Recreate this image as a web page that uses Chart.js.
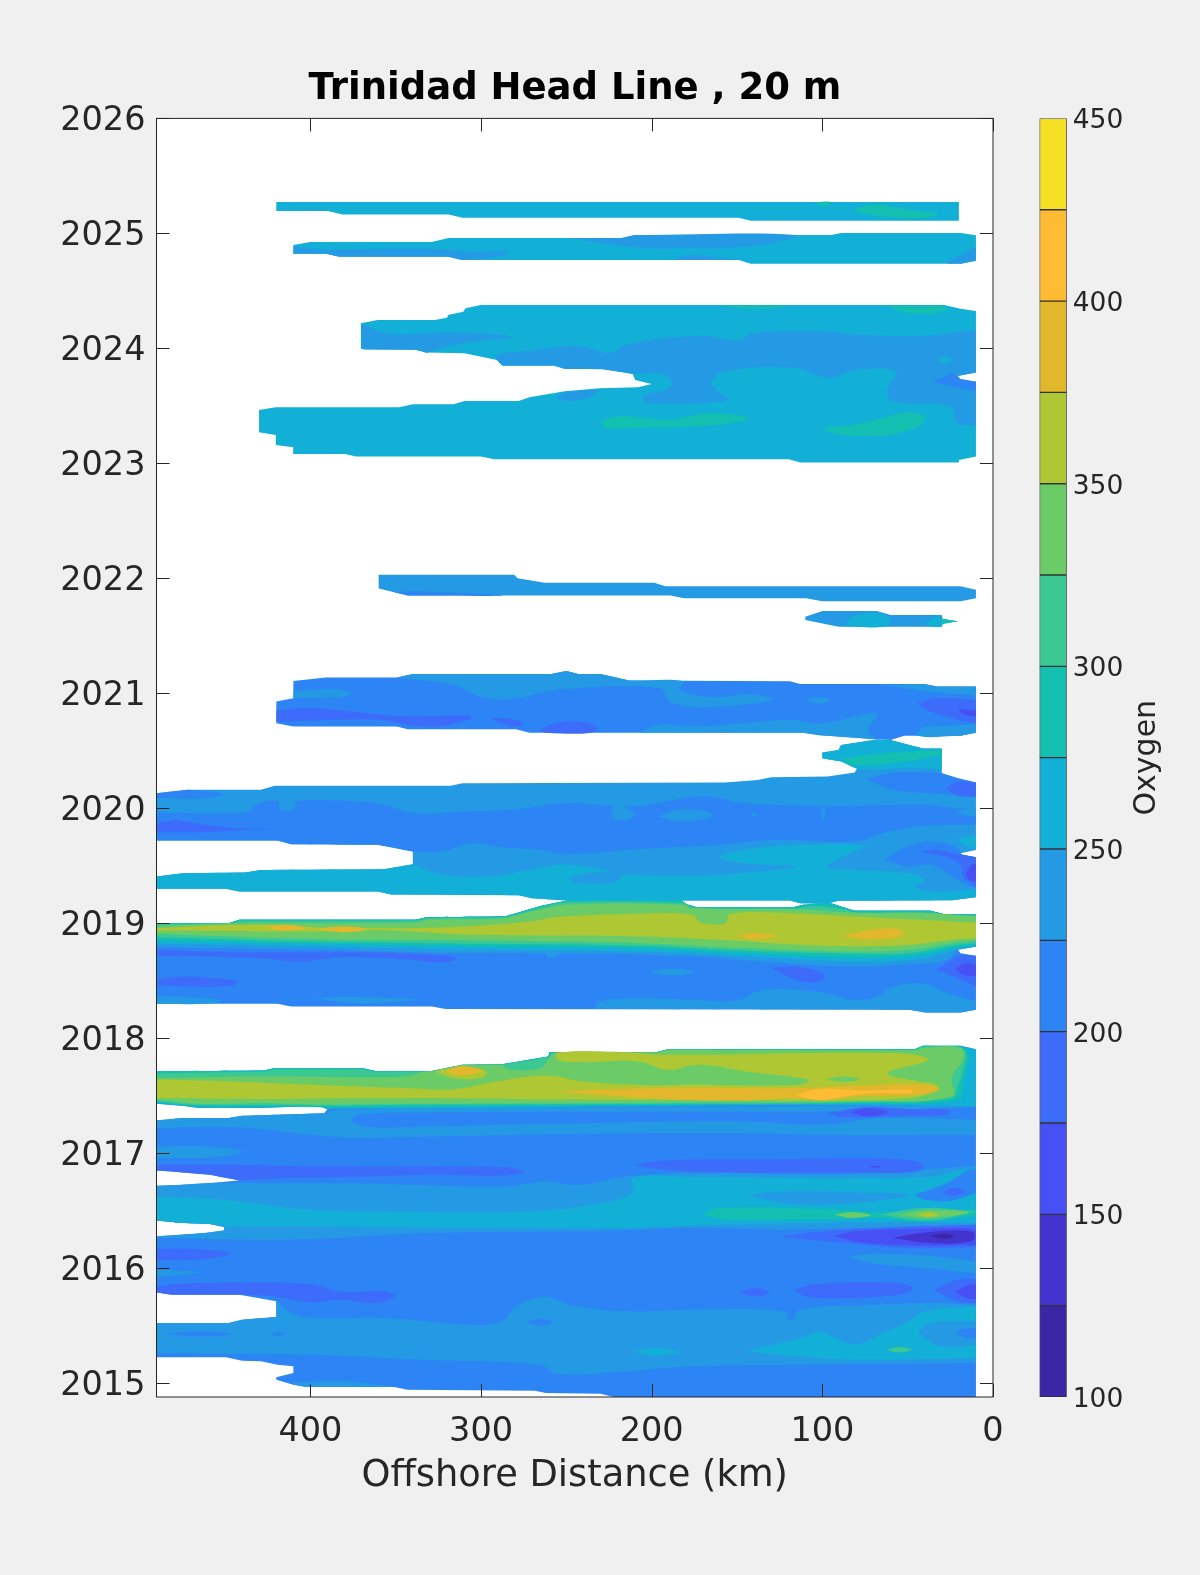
<!DOCTYPE html>
<html>
<head>
<meta charset="utf-8">
<title>Trinidad Head Line</title>
<script src="https://cdn.jsdelivr.net/npm/chart.js@4"></script>
<style>
  html, body { margin: 0; padding: 0; background: #f0f0f0; width: 1200px; height: 1575px; overflow: hidden; }
  canvas { position: absolute; top: 0; }
  #plot { left: 0; }
  #bar { left: 1020px; }
</style>
</head>
<body>
<canvas id="plot" width="1150" height="1575"></canvas>
<canvas id="bar" width="180" height="1575"></canvas>
<script>
// oxygen contour levels, one colour per band
const levels = [100, 125, 150, 175, 200, 225, 250, 275, 300, 325, 350, 375, 400, 425, 450];
const bandColors = ["#3b26a6", "#4334d0", "#4650f5", "#3e6cfa", "#2c84f5", "#259ae4", "#12afd6", "#12bfb0",
  "#3cc892", "#6bcb66", "#aec733", "#e2b72c", "#fdbc33", "#f6e023"];
const yearTicks = [2015, 2016, 2017, 2018, 2019, 2020, 2021, 2022, 2023, 2024, 2025, 2026];
const distTicks = [0, 100, 200, 300, 400];
const barTicks = [100, 150, 200, 250, 300, 350, 400, 450];

// contour outlines, [offshore km, year]

// 2025 strips
const s25a = [[420,2025.273],[20,2025.273],[20,2025.11],[142,2025.11],[149,2025.136],[311,2025.136],[319,2025.163],[381,2025.163],[390,2025.194],[420,2025.194]];
const s25a1 = [[82.6,2025.197],[70,2025.25],[49,2025.203],[32,2025.168],[43,2025.131],[68,2025.151]];
const s25a2 = [[104,2025.273],[95,2025.273],[99,2025.23]];
const s25b = [[410,2024.899],[400,2024.925],[329,2024.925],[319,2024.96],[217.6,2024.96],[209.7,2024.986],[95,2024.986],[89,2025.003],[19,2025.003],[10,2024.983],[10,2024.762],[19,2024.736],[142,2024.736],[149,2024.768],[311,2024.768],[319,2024.797],[383,2024.797],[391,2024.823],[410,2024.823],[410,2024.885]];
const s25b1 = [[410,2024.885],[389,2024.855],[383,2024.861],[329,2024.867],[303,2024.841],[283,2024.841],[291,2024.797],[311,2024.768],[319,2024.797],[383,2024.797],[391,2024.823],[410,2024.823]];
const s25b2 = [[249,2024.96],[217.6,2024.96],[209.7,2024.986],[116,2024.986],[135,2024.899],[192,2024.87],[221,2024.899]];
const s25b3 = [[187,2024.768],[179.5,2024.812],[157,2024.783],[149,2024.768]];
const s25b4 = [[10,2024.884],[19,2024.812],[27,2024.745],[19,2024.736],[10,2024.762]];

// 2023-2024 block
const s24 = [[370.4,2024.218],[360.6,2024.247],[327.2,2024.247],[319.9,2024.267],[319.3,2024.29],[310.4,2024.319],[309.1,2024.348],[300.2,2024.377],[28.6,2024.377],[19,2024.345],[10,2024.325],[10,2023.789],[20.6,2023.76],[19,2023.731],[10,2023.705],[10,2023.058],[20,2023.029],[20,2023.006],[112.8,2023.006],[119.7,2023.035],[292.3,2023.035],[300.2,2023.058],[373.3,2023.058],[379.6,2023.081],[410.1,2023.081],[410.1,2023.139],[420.3,2023.16],[420.3,2023.247],[430.1,2023.27],[430.1,2023.464],[420.3,2023.487],[347.9,2023.487],[339.9,2023.513],[316.1,2023.513],[309.7,2023.542],[278,2023.542],[271.6,2023.574],[251,2023.626],[230.3,2023.652],[208,2023.661],[200.1,2023.69],[209.7,2023.725],[211.2,2023.777],[228.7,2023.818],[251,2023.823],[257.3,2023.849],[287.5,2023.849],[290.7,2023.899],[309.7,2023.957],[332,2023.963],[338.3,2023.986],[368.5,2023.991],[370.4,2023.997]];
const s24left = [[370,2024.21],[354,2024.13],[316,2024.14],[281,2024.10],[303,2024.06],[322,2024.01],[332,2023.96],[338,2023.99],[368.5,2023.99],[370,2024.0]];
const s24main = [[291,2023.90],[291,2023.94],[272,2023.98],[243,2024.02],[224,2023.96],[214,2024.04],[170,2024.11],[149,2024.07],[141,2024.13],[100,2024.15],[81,2024.12],[43,2024.11],[10,2024.16],[10,2023.79],[21,2023.76],[19,2023.73],[10,2023.71],[10,2023.33],[21,2023.35],[25,2023.49],[59,2023.54],[62,2023.64],[57,2023.80],[81,2023.81],[97,2023.74],[116,2023.83],[157,2023.80],[165,2023.70],[160,2023.61],[154,2023.55],[202,2023.52],[205,2023.58],[189,2023.67],[192,2023.77],[211,2023.78],[229,2023.82],[251,2023.82],[257,2023.85],[287.5,2023.85]];
const s24notch = [[35,2023.71],[24,2023.78],[21,2023.76],[19,2023.73],[10,2023.71],[10,2023.63],[24,2023.67]];
const s24low = [[257,2023.57],[249,2023.62],[230,2023.64],[237,2023.57],[249,2023.54]];
const s24spot = [[33,2023.90],[29,2023.93],[24,2023.90],[29,2023.87]];
const s24g1 = [[230,2023.36],[221,2023.41],[189,2023.38],[167,2023.435],[143,2023.39],[164,2023.33],[208,2023.31],[227,2023.305]];
const s24g2 = [[100,2023.31],[84,2023.33],[68,2023.38],[51,2023.44],[40,2023.41],[43,2023.33],[56,2023.26],[68,2023.24],[90.5,2023.25]];
const s24g3 = [[160,2024.37],[122,2024.37],[141,2024.34]];
const s24g4 = [[62,2024.37],[28.6,2024.37],[27,2024.33],[43,2024.30],[54,2024.32]];

// 2022 strip and the small patch under it
const s22 = [[360,2022.03],[280.5,2022.03],[278.6,2022.0],[262.7,2021.96],[198.5,2021.96],[192,2021.93],[19,2021.93],[10,2021.90],[10,2021.826],[19,2021.80],[100,2021.80],[109.6,2021.826],[181,2021.826],[189,2021.85],[343,2021.85],[360,2021.91]];
const s22low = [[351,2021.88],[335,2021.886],[287.5,2021.85],[343,2021.85]];
const s21p = [[110,2021.666],[100,2021.716],[68,2021.716],[60,2021.68],[30,2021.68],[29.5,2021.646],[20.6,2021.626],[29.5,2021.608],[30,2021.579],[90.5,2021.579],[110,2021.637]];
const s21p1 = [[87,2021.58],[82.6,2021.667],[68,2021.70],[60,2021.637],[63,2021.58]];
const s21p2 = [[40,2021.608],[33,2021.666],[29.5,2021.646],[20.6,2021.626],[29.5,2021.608],[30,2021.579],[36.5,2021.579]];
const s21p3 = [[30,2021.646],[20.6,2021.626],[30,2021.60]];

// 2021 block
const s21 = [[410,2020.956],[410,2021.02],[410,2021.107],[391,2021.136],[349.5,2021.136],[340,2021.168],[259,2021.168],[250,2021.194],[243,2021.168],[230,2021.168],[213,2021.11],[119,2021.104],[113,2021.08],[40,2021.08],[33,2021.058],[10,2021.058],[10,2020.657],[19,2020.63],[52,2020.629],[60,2020.594],[68,2020.60],[101.6,2020.635],[111,2020.657],[271.6,2020.657],[279.5,2020.686],[343,2020.686],[349.5,2020.71],[410,2020.71],[420,2020.739],[420,2020.753],[420,2020.85],[420,2020.927]];
const s21a = [[349.5,2021.136],[340,2021.168],[259,2021.168],[250,2021.194],[243,2021.168],[230,2021.168],[213,2021.11],[181,2021.104],[184,2021.03],[163.6,2020.965],[141,2020.994],[128.6,2020.94],[167,2020.88],[189,2020.92],[195,2021.043],[252.5,2021.034],[284,2020.947],[300,2020.97],[316,2021.07]];
const s21b = [[410,2021.02],[386,2021.034],[376,2021.0],[383,2020.97],[410,2020.956]];
const s21c = [[110,2020.936],[103,2020.965],[95,2020.94],[102,2020.91]];
const s21d = [[63.5,2021.07],[40,2021.08],[33,2021.058],[10,2021.058],[10,2020.985],[36.5,2021.014]];
const s21e = [[208,2020.657],[195,2020.724],[173,2020.71],[147.7,2020.739],[119,2020.768],[100,2020.739],[68,2020.82],[73,2020.68],[68,2020.60],[101.6,2020.635],[111,2020.657]];
const s21f = [[41,2020.71],[17.5,2020.724],[10,2020.739],[10,2020.657],[19,2020.63],[44.5,2020.629]];
const s21v1 = [[420,2020.85],[399,2020.87],[367,2020.826],[345,2020.80],[305,2020.80],[322.5,2020.715],[341.5,2020.724],[360.6,2020.77],[420,2020.753]];
const s21v2 = [[295.4,2020.78],[284,2020.78],[275,2020.739],[278,2020.71],[287.5,2020.739]];
const s21v3 = [[266,2020.68],[257,2020.739],[243,2020.753],[232,2020.71],[235,2020.657],[262,2020.657]];
const s21v4 = [[44.5,2020.912],[33,2020.956],[14,2020.947],[10,2020.94],[10,2020.739],[20.6,2020.768],[36.5,2020.84]];
const s21v5 = [[20.6,2020.87],[10,2020.85],[10,2020.797],[17.5,2020.82]];

// 2019.2 - 2020.6 block
const s20 = [[68,2020.60],[60,2020.594],[49,2020.55],[41,2020.52],[30,2020.52],[30,2020.51],[30,2020.463],[30,2020.339],[30,2020.304],[20.6,2020.26],[10,2020.223],[10,2019.637],[19,2019.608],[18,2019.594],[10,2019.574],[10,2019.226],[24,2019.20],[90.5,2019.194],[98,2019.168],[113,2019.174],[119,2019.197],[249,2019.197],[270,2019.217],[278,2019.243],[352.6,2019.249],[360.6,2019.275],[441.6,2019.275],[449.5,2019.30],[490.2,2019.30],[490.2,2019.405],[475,2019.434],[438.4,2019.44],[429,2019.463],[357,2019.469],[340,2019.513],[340,2019.623],[360.6,2019.681],[411.4,2019.687],[419.3,2019.718],[490.2,2019.718],[490.2,2020.13],[471.8,2020.16],[429,2020.16],[421,2020.194],[317.7,2020.194],[311,2020.217],[157,2020.223],[138,2020.246],[130,2020.27],[97,2020.275],[81,2020.31],[79.4,2020.356],[89,2020.405],[100,2020.434],[100,2020.484],[90.5,2020.507],[89,2020.55]];
const s20top = [[89,2020.55],[68,2020.594],[60,2020.594],[49,2020.55],[41,2020.52],[30,2020.52],[30,2020.339],[52,2020.347],[78,2020.339],[89,2020.405],[100,2020.434],[100,2020.484],[90.5,2020.507]];
const s20teal = [[89,2020.426],[74.6,2020.463],[30,2020.51],[30,2020.463],[52.4,2020.405],[81,2020.376]];
const s20r1 = [[75,2020.26],[55.6,2020.31],[30,2020.304],[20.6,2020.26],[10,2020.223],[10,2020.10],[36.5,2020.13],[59,2020.16]];
const s20r2 = [[27.6,2020.17],[20.6,2020.23],[10,2020.223],[10,2020.10],[20.6,2020.107]];
const s20l1 = [[490,2020.13],[472,2020.16],[451,2020.124],[462,2020.087],[490,2020.087]];
const s20main = [[490,2019.962],[456,2019.956],[437,2019.971],[430.5,2020.043],[419,2020.058],[418,2019.991],[410,2019.985],[408,2020.058],[383,2020.066],[357,2020.029],[338,2019.956],[310,2019.971],[278,2019.991],[252.5,2020.043],[224,2020.02],[208,2020.02],[170,2020.101],[144.5,2020.043],[97,2020.02],[40,2020.029],[20.6,2020.0],[10,2020.0],[10,2019.855],[43,2019.84],[65,2019.782],[81,2019.71],[128.6,2019.724],[160.4,2019.681],[208,2019.643],[249.4,2019.603],[265,2019.637],[287.5,2019.66],[306.6,2019.695],[322.4,2019.623],[340,2019.623],[360.6,2019.681],[411.4,2019.687],[419.3,2019.718],[490.2,2019.718]];
const s20p1 = [[224,2020.0],[217.6,2020.02],[209.7,2019.94],[221,2019.90]];
const s20p2 = [[197,2019.927],[181,2019.99],[163.6,2019.94],[181,2019.884]];
const s20p3 = [[142,2019.97],[138,2019.94],[140.7,2019.927]];
const s20p4 = [[100.7,2020.0],[98.4,2020.0],[99,2019.90],[100,2019.90]];
const s20p5 = [[22,2019.985],[10,2020.0],[10,2019.927],[17.5,2019.94]];
const s20v = [[490,2019.87],[478,2019.892],[462,2019.855],[443,2019.826],[422.5,2019.82],[443,2019.805],[462,2019.791],[490,2019.788]];
const s19c = [[490.2,2019.405],[475,2019.434],[438.4,2019.44],[429,2019.463],[357,2019.469],[340,2019.513],[325.6,2019.429],[297,2019.405],[271.6,2019.463],[252.5,2019.507],[230.3,2019.469],[221,2019.434],[176,2019.411],[128.6,2019.463],[114.3,2019.492],[144.5,2019.521],[160.4,2019.574],[144.5,2019.637],[112.8,2019.681],[74.6,2019.672],[84,2019.608],[97,2019.492],[81,2019.463],[49,2019.434],[39.7,2019.376],[46,2019.318],[36.5,2019.275],[10,2019.29],[10,2019.226],[24,2019.20],[90.5,2019.194],[98,2019.168],[113,2019.174],[119,2019.197],[249,2019.197],[270,2019.217],[278,2019.243],[352.6,2019.249],[360.6,2019.275],[441.6,2019.275],[449.5,2019.30],[490.2,2019.30]];
const s19p = [[249,2019.39],[233.5,2019.44],[217.6,2019.42],[221,2019.362],[243,2019.348]];
const s19r1 = [[63.5,2019.55],[52.4,2019.652],[36.5,2019.71],[20.6,2019.652],[19,2019.608],[18,2019.594],[10,2019.574],[10,2019.304],[19,2019.362],[28.6,2019.449],[36.5,2019.507],[49,2019.492]];
const s19r2 = [[43,2019.623],[33,2019.637],[20.6,2019.594],[18,2019.594],[10,2019.574],[10,2019.318],[17.5,2019.405],[19,2019.507],[27,2019.574]];
const s19r3 = [[15.8,2019.434],[12.6,2019.507],[10,2019.515],[10,2019.362],[14,2019.376]];
const s19r4 = [[20.6,2019.739],[10,2019.768],[10,2019.652],[17.5,2019.681]];

// 2018.2 - 2019.2 block with the warm band
const bandTop = [[490.2,2019.0],[448,2019.0],[441.6,2019.029],[338.3,2019.029],[332,2019.052],[286,2019.058],[265,2019.15],[249.4,2019.197],[182.6,2019.197],[179.5,2019.165],[173,2019.136],[117.5,2019.136],[111,2019.159],[98.5,2019.168],[95,2019.174],[85.8,2019.13],[81,2019.107],[36.5,2019.107],[28.6,2019.078],[10,2019.078]];
const s18 = [...bandTop,[10,2018.797],[20.6,2018.768],[19,2018.739],[10,2018.716],[10,2018.246],[19,2018.223],[39.7,2018.223],[49,2018.246],[320.9,2018.252],[328.8,2018.275],[411.4,2018.275],[419.3,2018.298],[490.2,2018.298]];
const s18b225 = [...bandTop,[10,2018.797],[20.6,2018.768],[27,2018.681],[43,2018.646],[81,2018.623],[128.6,2018.658],[176,2018.71],[252.5,2018.733],[259,2018.695],[263.7,2018.733],[316,2018.739],[398.7,2018.768],[490.2,2018.791]];
const s18b250 = [...bandTop,[10,2018.797],[20.6,2018.774],[43,2018.687],[81,2018.666],[144.5,2018.71],[208,2018.753],[303.4,2018.768],[398.7,2018.797],[490.2,2018.82]];
const s18b275 = [...bandTop,[10,2018.811],[20.6,2018.788],[49,2018.716],[81,2018.704],[144.5,2018.739],[208,2018.782],[303.4,2018.797],[398.7,2018.82],[490.2,2018.849]];
const s18b300 = [[490.2,2018.994],[448,2018.994],[441.6,2019.02],[338.3,2019.02],[332,2019.043],[286,2019.049],[265,2019.139],[249.4,2019.182],[181,2019.174],[176,2019.136],[116,2019.127],[108,2019.145],[97,2019.139],[85.8,2019.116],[81,2019.092],[36.5,2019.092],[28.6,2019.069],[10,2019.069],[10,2018.826],[20.6,2018.811],[49,2018.739],[81,2018.733],[144.5,2018.759],[208,2018.803],[303.4,2018.82],[398.7,2018.84],[490.2,2018.878]];
const s18b325 = [[490.2,2018.971],[459,2018.994],[441.6,2019.0],[338.3,2019.005],[332,2019.029],[287.5,2019.043],[270,2019.101],[249.4,2019.159],[181,2019.159],[176,2019.13],[116,2019.121],[81,2019.092],[36.5,2019.087],[10,2019.058],[10,2018.849],[24,2018.826],[49,2018.768],[81,2018.753],[144.5,2018.782],[208,2018.826],[303.4,2018.849],[398.7,2018.861],[490.2,2018.907]];
const s18b350 = [[490.2,2018.956],[459,2018.977],[427,2018.985],[403.5,2018.971],[398.7,2018.965],[354.2,2018.956],[309.7,2018.971],[271.6,2019.014],[255.7,2019.052],[208,2019.081],[176,2019.072],[171.5,2019.005],[157,2019.0],[154,2019.081],[119,2019.087],[81,2019.058],[10,2019.005],[10,2018.869],[24,2018.855],[49,2018.811],[81,2018.797],[112.8,2018.811],[160.4,2018.855],[208,2018.884],[303.4,2018.898],[354.2,2018.936],[398.7,2018.927],[490.2,2018.936]];
const s18g1 = [[427,2018.965],[414.6,2018.985],[403.5,2018.956],[414.6,2018.936]];
const s18g2 = [[397,2018.95],[379.6,2018.971],[367,2018.947],[379.6,2018.921]];
const s18g3 = [[151,2018.89],[139.7,2018.913],[127,2018.89],[139.7,2018.861]];
const s18g4 = [[87.3,2018.898],[68.3,2018.947],[54,2018.942],[52.4,2018.898],[65,2018.861],[81,2018.869]];
const s18v1 = [[490,2018.768],[462,2018.753],[414.6,2018.745],[367,2018.745],[329,2018.725],[314.5,2018.695],[322.4,2018.658],[341.5,2018.681],[382.8,2018.704],[405,2018.666],[430.5,2018.695],[490,2018.716]];
const s18v2 = [[490,2018.507],[475,2018.536],[456,2018.521],[442.5,2018.492],[446,2018.455],[475,2018.449],[490,2018.464]];
const s18v3 = [[130,2018.608],[116,2018.623],[100,2018.565],[98.5,2018.521],[106,2018.484],[117.5,2018.521]];
const s18v4 = [[33,2018.594],[24,2018.681],[19,2018.716],[10,2018.716],[10,2018.449],[20.6,2018.521]];
const s18v5 = [[22,2018.608],[15.8,2018.652],[10,2018.637],[10,2018.536],[17.5,2018.55]];
const s18p1 = [[201.7,2018.574],[189,2018.603],[174.7,2018.574],[187.4,2018.542]];
const s18p2 = [[400,2018.353],[370,2018.356],[338,2018.333],[373,2018.304]];
const s18p3 = [[490,2018.362],[472,2018.356],[451,2018.327],[462,2018.298],[490,2018.298]];
const s18p4 = [[233.5,2018.252],[230.3,2018.318],[208,2018.347],[176,2018.333],[149.3,2018.327],[135,2018.42],[100,2018.397],[81,2018.333],[68,2018.362],[58.7,2018.449],[39.7,2018.472],[27,2018.391],[10,2018.318],[10,2018.246],[19,2018.223],[39.7,2018.223],[49,2018.246]];

// 2014.9 - 2017.9 block
const s17 = [[490,2017.71],[427,2017.718],[421,2017.739],[370,2017.739],[362,2017.713],[329,2017.713],[311,2017.768],[287.5,2017.773],[260.5,2017.84],[260,2017.878],[197,2017.878],[190.6,2017.904],[46,2017.904],[41,2017.933],[19,2017.933],[10,2017.904],[10,2014.878],[222.4,2014.878],[230,2014.907],[262,2014.913],[268.4,2014.933],[343,2014.942],[351,2014.965],[402,2014.965],[410,2014.985],[420,2015.029],[420,2015.049],[410,2015.087],[410,2015.145],[419.3,2015.159],[429,2015.188],[440,2015.194],[449.5,2015.223],[490.2,2015.223],[490.2,2015.522],[448,2015.522],[440,2015.551],[420,2015.574],[420,2015.71],[441.6,2015.768],[481,2015.768],[490,2015.788],[490,2016.275],[462,2016.304],[450.5,2016.327],[450.5,2016.356],[459,2016.382],[475,2016.391],[490,2016.414],[490,2016.715],[475,2016.724],[459,2016.739],[441.6,2016.762],[459,2016.811],[481,2016.84],[490,2016.849],[490,2017.284],[475,2017.304],[448,2017.304],[440,2017.324],[392,2017.347],[390,2017.382],[395.5,2017.411],[430.5,2017.391],[465,2017.391],[475,2017.411],[490,2017.428]];
const s17streak = [[490,2017.284],[475,2017.304],[448,2017.304],[440,2017.324],[392,2017.347],[384.4,2017.376],[10,2017.42],[10,2017.159],[100,2017.159],[144.5,2017.173],[240,2017.168],[341.5,2017.139],[373,2017.13],[399,2017.159],[446,2017.226],[490,2017.217]];
const s17caps = [[376.5,2017.275],[371.7,2017.333],[335,2017.353],[176,2017.362],[97,2017.362],[10,2017.4],[10,2017.29],[65,2017.304],[100,2017.246],[144.5,2017.275],[240,2017.26],[335,2017.231],[367,2017.226]];
const s17w250 = [[490,2017.71],[427,2017.718],[421,2017.739],[370,2017.739],[362,2017.713],[329,2017.713],[311,2017.768],[287.5,2017.773],[260.5,2017.84],[260,2017.878],[197,2017.878],[190.6,2017.904],[46,2017.904],[41,2017.933],[19,2017.933],[10,2017.904],[10,2017.405],[81,2017.417],[176,2017.411],[335,2017.388],[384.4,2017.388],[390,2017.382],[395.5,2017.411],[430.5,2017.391],[465,2017.391],[475,2017.411],[490,2017.428]];
const s17w275 = [[490,2017.71],[427,2017.718],[421,2017.739],[370,2017.739],[362,2017.713],[329,2017.713],[311,2017.768],[287.5,2017.773],[260.5,2017.84],[260,2017.878],[197,2017.878],[190.6,2017.904],[46,2017.904],[41,2017.933],[19,2017.927],[14,2017.869],[15,2017.753],[17.5,2017.608],[20.6,2017.463],[81,2017.428],[176,2017.42],[335,2017.4],[390,2017.397],[430.5,2017.405],[465,2017.405],[490,2017.44]];
const s17w300 = [[490,2017.695],[427,2017.707],[421,2017.73],[370,2017.73],[362,2017.707],[329,2017.707],[311,2017.762],[287.5,2017.768],[260.5,2017.834],[259,2017.869],[197,2017.869],[190.6,2017.898],[46,2017.898],[41,2017.927],[19,2017.927],[16,2017.869],[17,2017.753],[20.6,2017.579],[24,2017.478],[81,2017.44],[176,2017.428],[335,2017.42],[390,2017.411],[430.5,2017.417],[465,2017.417],[490,2017.449]];
const s17w325 = [[490,2017.652],[430.5,2017.666],[367,2017.66],[344.7,2017.666],[335,2017.701],[329,2017.713],[311,2017.768],[287.5,2017.768],[284,2017.73],[265,2017.739],[260,2017.826],[255.7,2017.875],[197,2017.875],[190.6,2017.898],[46,2017.892],[39.7,2017.921],[19,2017.913],[17.5,2017.811],[24,2017.666],[24,2017.492],[81,2017.449],[176,2017.44],[335,2017.428],[390,2017.423],[430.5,2017.434],[465,2017.428],[490,2017.463]];
const s17w350 = [[490,2017.643],[446,2017.623],[399,2017.594],[344.7,2017.565],[316,2017.556],[290.7,2017.623],[262,2017.675],[240,2017.623],[208,2017.594],[176,2017.594],[114,2017.594],[108,2017.637],[144.5,2017.71],[173,2017.768],[190.6,2017.724],[208,2017.797],[240,2017.791],[255,2017.811],[255,2017.875],[214.4,2017.875],[192,2017.855],[55.6,2017.869],[38,2017.811],[62,2017.695],[43,2017.623],[33,2017.594],[32,2017.55],[49,2017.478],[97,2017.457],[208,2017.463],[271.6,2017.469],[367,2017.478],[430.5,2017.469],[490,2017.478]];
const s17isle = [[98.5,2017.643],[87.3,2017.666],[78,2017.643],[87.3,2017.62]];
const s17gold = [[254,2017.536],[192,2017.565],[113,2017.565],[81,2017.585],[39.7,2017.594],[32,2017.55],[43,2017.507],[81,2017.492],[100,2017.457],[116,2017.478],[144.5,2017.457],[192,2017.469],[230,2017.507]];
const s17orange = [[116,2017.507],[101.6,2017.556],[78,2017.544],[47.6,2017.55],[47.6,2017.521],[71.5,2017.521],[87.3,2017.492],[100,2017.463],[109.6,2017.478]];
const s17olive = [[327,2017.71],[311,2017.762],[297,2017.71],[300,2017.652],[316,2017.652]];
const s17spot = [[321,2017.718],[310,2017.753],[299.6,2017.718],[306.6,2017.681],[316,2017.681]];
const s17d1 = [[97,2017.347],[84,2017.382],[71.5,2017.4],[49,2017.382],[25.4,2017.376],[27,2017.333],[49,2017.324],[71.5,2017.313],[87.3,2017.313]];
const s17d2 = [[84,2017.353],[73,2017.391],[62,2017.353],[73,2017.318]];
const s17l = [[490,2017.058],[462,2017.058],[440,2017.014],[456,2016.965],[490,2016.956]];

const s16a225 = [[490,2016.715],[475,2016.724],[459,2016.739],[367,2016.733],[287.5,2016.71],[262,2016.753],[243,2016.724],[214.4,2016.797],[176,2016.826],[81,2016.82],[10,2016.89],[10,2016.362],[81,2016.347],[125.5,2016.333],[176,2016.347],[221,2016.327],[329,2016.304],[414.6,2016.246],[490,2016.26],[490,2016.275],[462,2016.304],[450.5,2016.327],[450.5,2016.356],[459,2016.382],[475,2016.391],[490,2016.414]];
const s16a250 = [[490,2016.623],[452.7,2016.594],[399,2016.507],[360.6,2016.492],[271.6,2016.492],[230,2016.565],[211,2016.652],[211,2016.782],[176,2016.79],[81,2016.782],[36.5,2016.797],[16,2016.86],[10,2016.855],[10,2016.391],[81,2016.397],[176,2016.368],[221,2016.347],[303,2016.347],[383,2016.362],[450.5,2016.362],[459,2016.382],[475,2016.391],[490,2016.414]];
const s16v1 = [[490,2016.898],[446.3,2016.898],[398.7,2016.884],[344.7,2016.884],[287.5,2016.878],[274.8,2016.84],[287.5,2016.805],[329,2016.811],[367,2016.797],[414.6,2016.782],[441.6,2016.762],[459,2016.811],[481.3,2016.84],[490,2016.849]];
const s16v2 = [[211,2016.898],[192,2016.936],[128.6,2016.947],[55.6,2016.947],[41,2016.898],[44.5,2016.84],[81,2016.831],[144.5,2016.831],[192,2016.855]];
const s16v3 = [[73,2016.881],[69,2016.889],[65,2016.878],[69,2016.872]];
const s16p1 = [[144.5,2016.637],[119,2016.667],[81,2016.658],[49,2016.637],[81,2016.565],[119,2016.559]];
const s16r1 = [[46,2016.637],[27,2016.739],[14,2016.855],[10,2016.855],[10,2016.652],[24,2016.588],[39.7,2016.594]];
const s16r2 = [[30,2016.652],[24,2016.695],[16,2016.666],[24,2016.631]];
const s16t = [[170,2016.463],[160.4,2016.521],[97,2016.512],[65,2016.483],[10,2016.507],[10,2016.455],[43,2016.405],[65,2016.434],[97,2016.425],[157,2016.425]];
const s16g1 = [[93,2016.464],[82.6,2016.484],[71.5,2016.458],[82.6,2016.435]];
const s16g2 = [[66.7,2016.464],[39.7,2016.522],[10,2016.493],[36.5,2016.414]];
const s16g3 = [[55.6,2016.464],[39.7,2016.501],[14,2016.484],[36.5,2016.435]];
const s16g4 = [[44.5,2016.464],[38,2016.484],[32,2016.461],[38,2016.443]];
const s16k1 = [[125.5,2016.275],[93.7,2016.327],[49,2016.362],[10,2016.377],[10,2016.182],[49,2016.174],[87.3,2016.217]];
const s16k2 = [[93,2016.275],[81,2016.319],[49,2016.339],[17.5,2016.348],[10,2016.333],[10,2016.203],[43,2016.194],[74.6,2016.217]];
const s16k3 = [[58.7,2016.261],[43,2016.304],[20.6,2016.327],[11,2016.304],[12.7,2016.232],[36.5,2016.217]];
const s16k4 = [[36,2016.275],[29.5,2016.298],[23,2016.275],[29.5,2016.255]];
const s16l1 = [[490,2016.165],[468.6,2016.165],[446.3,2016.13],[456,2016.087],[478,2016.067],[490,2016.067]];
const s16l2 = [[490,2015.985],[465.4,2015.962],[490,2015.922]];
const s16r3 = [[85.8,2016.101],[68,2016.124],[33,2016.101],[10,2016.058],[10,2015.956],[39.7,2016.0],[68,2016.037]];

const s15v1 = [[490,2015.84],[475,2015.864],[402,2015.864],[382.8,2015.797],[357.4,2015.797],[350.4,2015.759],[360.6,2015.696],[382.8,2015.725],[398.7,2015.701],[421,2015.753],[441.6,2015.768],[481.3,2015.768],[490,2015.788]];
const s15v2 = [[148.3,2015.788],[139.8,2015.823],[130.9,2015.788],[139.8,2015.753]];
const s15v3 = [[117,2015.811],[103.2,2015.861],[55.6,2015.869],[47,2015.82],[55.6,2015.768],[87.3,2015.739],[109.6,2015.753]];
const s15v4 = [[35,2015.811],[20.6,2015.898],[10,2015.904],[10,2015.69],[20.6,2015.71]];
const s15v5 = [[22,2015.797],[14,2015.855],[10,2015.855],[10,2015.73],[15.8,2015.739]];
const s15a = [[490,2015.522],[448,2015.522],[440,2015.551],[420,2015.574],[420,2015.71],[411.4,2015.609],[398.7,2015.565],[357.4,2015.565],[306.6,2015.507],[287.5,2015.536],[279.6,2015.667],[262,2015.748],[246.2,2015.672],[214.4,2015.623],[176.3,2015.638],[122.3,2015.623],[119,2015.536],[112.8,2015.638],[68.3,2015.681],[36.5,2015.696],[10,2015.681],[10,2015.174],[112.8,2015.159],[176.3,2015.145],[214.4,2015.101],[255.7,2015.081],[265.3,2015.159],[335,2015.203],[398.7,2015.246],[462.2,2015.255],[490,2015.261]];
const s15b1 = [[274,2015.53],[266,2015.559],[257.3,2015.53],[266,2015.498]];
const s15b2 = [[486,2015.429],[465.4,2015.449],[446.3,2015.429],[465.4,2015.406]];
const s15b3 = [[424,2015.429],[419.3,2015.446],[414,2015.429],[419.3,2015.411]];
const s15b4 = [[22,2015.435],[17.5,2015.469],[10,2015.478],[10,2015.391],[16,2015.391]];
const s15c = [[144.5,2015.275],[112.8,2015.391],[101.6,2015.44],[92,2015.391],[81,2015.333],[68.3,2015.406],[49.3,2015.536],[39.7,2015.623],[10,2015.667],[10,2015.536],[36.5,2015.522],[43,2015.435],[30.2,2015.319],[10,2015.333],[10,2015.217],[81,2015.203],[119,2015.238]];
const s15d = [[211.9,2015.269],[198.5,2015.304],[184.2,2015.269],[198.5,2015.24]];
const s15e = [[62,2015.29],[55.6,2015.313],[47.6,2015.29],[55.6,2015.267]];
const s15f = [[410,2015.006],[382.8,2015.014],[360.6,2014.985],[351,2014.965],[402,2014.965],[410,2014.985]];

// outer edges of the data, drawn straight
const hulls = [s25a, s25b, s24, s22, s21p, s21, s20, s18, s17];

// painted in this order: outline, level (lower edge of the band)
const layers = [
  [s25a,250],[s25a1,275],[s25a2,275],
  [s25b,250],[s25b1,225],[s25b2,225],[s25b3,225],[s25b4,225],
  [s24,250],[s24left,225],[s24main,225],[s24notch,200],[s24low,225],[s24spot,250],
  [s24g1,275],[s24g2,275],[s24g3,275],[s24g4,275],
  [s22,225],[s22low,200],[s21p,225],[s21p1,250],[s21p2,250],[s21p3,275],
  [s21,200],[s21a,225],[s21b,225],[s21c,225],[s21d,225],[s21e,225],[s21f,225],
  [s21v1,175],[s21v2,175],[s21v3,175],[s21v4,175],[s21v5,150],
  [s20,225],[s20top,250],[s20teal,275],[s20r1,200],[s20r2,175],[s20l1,200],
  [s20main,200],[s20p1,225],[s20p2,225],[s20p3,225],[s20p4,225],[s20p5,225],[s20v,175],
  [s19c,250],[s19p,225],[s19r1,200],[s19r2,175],[s19r3,150],[s19r4,250],
  [s18,200],[s18b225,225],[s18b250,250],[s18b275,275],[s18b300,300],[s18b325,325],[s18b350,350],
  [s18g1,375],[s18g2,375],[s18g3,375],[s18g4,375],
  [s18v1,175],[s18v2,175],[s18v3,175],[s18v4,175],[s18v5,150],
  [s18p1,225],[s18p2,225],[s18p3,225],[s18p4,225],
  [s17,200],[s17streak,225],[s17caps,200],[s17w250,250],[s17w275,275],[s17w300,300],[s17w325,325],
  [s17w350,350],[s17isle,325],[s17gold,375],[s17orange,400],[s17olive,350],[s17spot,375],
  [s17d1,175],[s17d2,150],[s17l,225],
  [s16a225,225],[s16a250,250],[s16v1,175],[s16v2,175],[s16v3,150],
  [s16p1,225],[s16r1,200],[s16r2,175],[s16t,275],[s16g1,325],[s16g2,300],[s16g3,325],[s16g4,350],
  [s16k1,175],[s16k2,150],[s16k3,125],[s16k4,100],[s16l1,175],[s16l2,225],[s16r3,225],
  [s15v1,175],[s15v2,175],[s15v3,175],[s15v4,175],[s15v5,150],
  [s15a,225],[s15b1,200],[s15b2,200],[s15b3,200],[s15b4,200],[s15c,250],[s15d,250],[s15e,300],[s15f,225]
];

const ink = "#262626";
const tickFont = { family: "DejaVu Sans", size: 33.5 };

// a point doubled stops the spline there, so inner contours stay inside the data edge
function onEdge(p) {
  if (p[0] <= 10 || p[0] >= 490) return true;
  return hulls.some(h => h.some(q => Math.abs(q[0] - p[0]) < 1.5 && Math.abs(q[1] - p[1]) < 0.012));
}

const datasets = layers.map(([pts, level], i) => {
  const isHull = hulls.includes(pts);
  const closed = [...pts, pts[0]];
  return {
    data: isHull ? closed : closed.flatMap(p => onEdge(p) ? [p, p] : [p]),
    backgroundColor: bandColors[levels.indexOf(level)],
    fill: "shape",
    tension: isHull ? 0 : 0.4,
    borderWidth: 0,
    pointRadius: 0,
    order: layers.length - i
  };
});

// white plot area
const plotBackground = {
  id: "plotBackground",
  beforeDraw(chart) {
    const a = chart.chartArea, ctx = chart.ctx;
    ctx.save();
    ctx.fillStyle = "#ffffff";
    ctx.fillRect(a.left, a.top, a.right - a.left, a.bottom - a.top);
    ctx.restore();
  }
};

// box round the axes with inward ticks on all four sides
const boxTicks = {
  id: "boxTicks",
  afterDraw(chart) {
    const a = chart.chartArea, ctx = chart.ctx, len = 13;
    ctx.save();
    ctx.strokeStyle = ink;
    ctx.lineWidth = 1;
    ctx.strokeRect(a.left, a.top, a.right - a.left, a.bottom - a.top);
    ctx.beginPath();
    distTicks.forEach(v => {
      const x = Math.round(chart.scales.x.getPixelForValue(v)) + 0.5;
      ctx.moveTo(x, a.bottom); ctx.lineTo(x, a.bottom - len);
      ctx.moveTo(x, a.top); ctx.lineTo(x, a.top + len);
    });
    yearTicks.forEach(v => {
      const y = Math.round(chart.scales.y.getPixelForValue(v)) + 0.5;
      ctx.moveTo(a.left, y); ctx.lineTo(a.left + len, y);
      ctx.moveTo(a.right, y); ctx.lineTo(a.right - len, y);
    });
    ctx.stroke();
    ctx.restore();
  }
};

new Chart(document.getElementById("plot"), {
  type: "line",
  data: { datasets: datasets },
  plugins: [plotBackground, boxTicks],
  options: {
    responsive: false,
    animation: false,
    events: [],
    layout: { padding: { top: 67, right: 0, left: 0, bottom: 0 } },
    plugins: {
      legend: { display: false },
      tooltip: { enabled: false },
      title: {
        display: true,
        text: "Trinidad Head Line , 20 m",
        color: "#000000",
        font: { family: "DejaVu Sans", size: 37, weight: "bold", lineHeight: 1.2 },
        padding: { top: 0, bottom: 7 }
      }
    },
    scales: {
      x: {
        type: "linear",
        reverse: true,
        min: 0,
        max: 490.2,
        afterBuildTicks: s => { s.ticks = distTicks.map(v => ({ value: v })); },
        afterFit: s => { s.height = 178; },
        grid: { display: false, drawTicks: false },
        border: { display: false },
        ticks: { color: ink, font: tickFont, padding: 15, maxRotation: 0, autoSkip: false, callback: v => String(v) },
        title: {
          display: true,
          text: "Offshore Distance (km)",
          color: ink,
          font: { family: "DejaVu Sans", size: 36.8 },
          padding: { top: 0, bottom: 76 }
        }
      },
      y: {
        type: "linear",
        min: 2014.878,
        max: 2026,
        afterBuildTicks: s => { s.ticks = yearTicks.map(v => ({ value: v })); },
        afterFit: s => { s.width = 156.5; },
        grid: { display: false, drawTicks: false },
        border: { display: false },
        ticks: { color: ink, font: tickFont, padding: 11, labelOffset: 3, autoSkip: false, callback: v => String(v) }
      },
      // empty axis, keeps the plot's right edge and the title centred over the whole canvas
      ySpacer: {
        type: "linear",
        position: "right",
        afterFit: s => { s.width = 157; },
        grid: { display: false, drawTicks: false },
        border: { display: false },
        ticks: { display: false }
      }
    }
  }
});

// "Oxygen" reads bottom to top, the library's right axis title would not
const barLabel = {
  id: "barLabel",
  afterDraw(chart) {
    const a = chart.chartArea, ctx = chart.ctx;
    ctx.save();
    ctx.translate(127, (a.top + a.bottom) / 2);
    ctx.rotate(-Math.PI / 2);
    ctx.fillStyle = ink;
    ctx.font = "30px 'DejaVu Sans'";
    ctx.textAlign = "center";
    ctx.textBaseline = "middle";
    ctx.fillText("Oxygen", 0, 0);
    ctx.restore();
  }
};

new Chart(document.getElementById("bar"), {
  type: "bar",
  data: {
    labels: ["Oxygen"],
    datasets: bandColors.map((c, i) => ({
      data: [[levels[i], levels[i + 1]]],
      backgroundColor: c,
      borderColor: "#333333",
      borderWidth: 1,
      borderSkipped: false,
      barPercentage: 1,
      categoryPercentage: 1
    }))
  },
  plugins: [barLabel],
  options: {
    responsive: false,
    animation: false,
    events: [],
    layout: { padding: { top: 118.4, left: 19.5, right: 0, bottom: 178 } },
    plugins: { legend: { display: false }, tooltip: { enabled: false } },
    scales: {
      x: { stacked: true, display: false },
      y: {
        position: "right",
        min: 100,
        max: 450,
        afterBuildTicks: s => { s.ticks = barTicks.map(v => ({ value: v })); },
        afterFit: s => { s.width = 133.3; },
        grid: { display: false, drawTicks: false },
        border: { display: false },
        ticks: { color: ink, font: { family: "DejaVu Sans", size: 26.5 }, padding: 6, labelOffset: 3, autoSkip: false }
      }
    }
  }
});
</script>
</body>
</html>
